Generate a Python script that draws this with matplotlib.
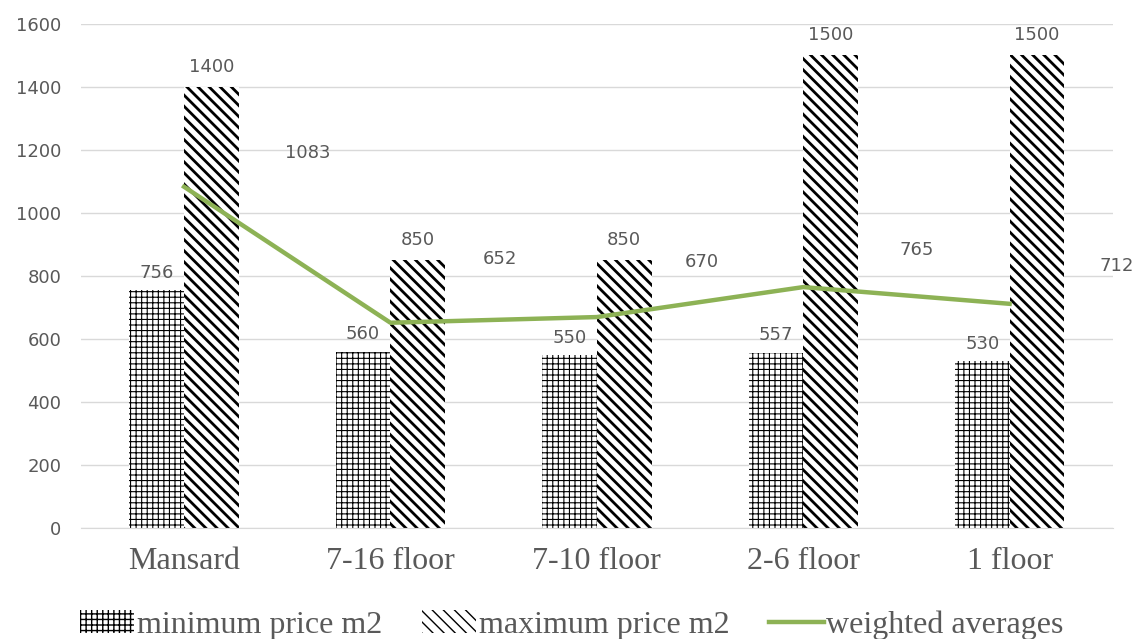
import numpy as np
import matplotlib.pyplot as plt

categories = ["Mansard", "7-16 floor", "7-10 floor", "2-6 floor", "1 floor"]
min_price = [756, 560, 550, 557, 530]
max_price = [1400, 850, 850, 1500, 1500]
weighted_avg = [1083, 652, 670, 765, 712]

# where the line labels sit, relative to the point (x in categories, y in data)
avg_label_dx = [0.60, 0.53, 0.51, 0.55, 0.52]
avg_label_y = [1191, 855, 843, 881, 833]

grey = "#595959"

fig = plt.figure(figsize=(11.39, 6.39), dpi=100)
ax = fig.add_axes([0.071, 0.173, 0.906, 0.79])

x = np.arange(len(categories))
w = 0.265
b1 = ax.bar(x - w / 2, min_price, w, color="white", edgecolor="black",
            linewidth=0, hatch="+++", label="minimum price m2")
b2 = ax.bar(x + w / 2, max_price, w, color="white", edgecolor="black",
            linewidth=0, hatch="\\\\\\", label="maximum price m2")
# thin grid, thick stripes
for p in b1:
    if hasattr(p, "set_hatch_linewidth"):
        p.set_hatch_linewidth(0.8)
for p in b2:
    if hasattr(p, "set_hatch_linewidth"):
        p.set_hatch_linewidth(2.0)
line, = ax.plot(x, weighted_avg, color="#8db255", linewidth=3.2,
                label="weighted averages", zorder=3)

ax.bar_label(b1, padding=6, color=grey, fontsize=13)
ax.bar_label(b2, padding=8, color=grey, fontsize=13)
for i, v in enumerate(weighted_avg):
    ax.text(x[i] + avg_label_dx[i], avg_label_y[i], str(v), ha="center",
            va="center", color=grey, fontsize=13)

ax.set_xlim(-0.5, len(categories) - 0.5)
ax.set_ylim(0, 1600)
ax.set_yticks(range(0, 1601, 200))
ax.yaxis.grid(True, color="#d9d9d9", linewidth=1)
ax.set_axisbelow(True)
for s in ["top", "right", "left"]:
    ax.spines[s].set_visible(False)
ax.spines["bottom"].set_color("#d9d9d9")
ax.tick_params(axis="both", length=0)
ax.tick_params(axis="y", labelsize=13, labelcolor=grey, pad=14)
ax.set_xticks(x)
ax.set_xticklabels(categories, family="Liberation Serif", fontsize=23,
                   color=grey)
ax.tick_params(axis="x", pad=13)

leg = fig.legend(handles=[b1, b2, line], loc="center",
                 bbox_to_anchor=(0.502, 1 - 625 / 639), ncol=3, frameon=False,
                 prop={"family": "Liberation Serif", "size": 23},
                 handlelength=1.7, handletextpad=0.08, columnspacing=1.25,
                 borderpad=0)
for t in leg.get_texts():
    t.set_color(grey)

fig.savefig("out.png", dpi=100)
